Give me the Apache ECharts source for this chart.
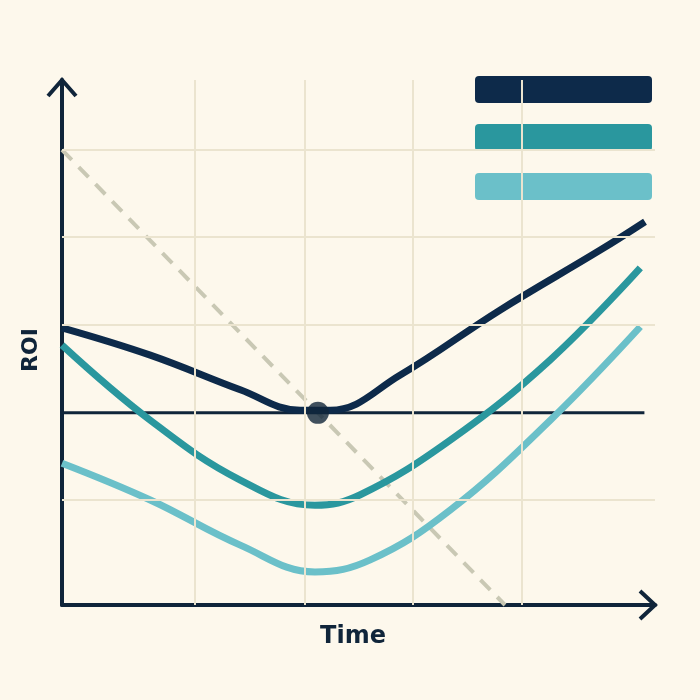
<!DOCTYPE html><html><head><meta charset="utf-8">
<script src="https://cdn.jsdelivr.net/npm/echarts@6/dist/echarts.min.js"></script>
<style>html,body{margin:0;background:#fdf8ec}#c{width:700px;height:700px}</style></head><body><div id="c"></div>
<script>
const darkLine=[[0,5.28],[1.5,4.76],[3.03,4.1],[4.05,3.71],[4.56,3.71],[5.75,4.38],[7.45,5.62],[9.15,6.76],[9.91,7.3]];
const tealLine=[[0,4.95],[1.5,3.52],[3.03,2.38],[4.3,1.9],[5.07,2.1],[6.6,3.14],[8.3,4.67],[9.83,6.42]];
const lightLine=[[0,2.7],[1.5,2.0],[3.03,1.14],[4.3,0.63],[5.24,0.86],[6.6,1.81],[8.3,3.52],[9.83,5.3]];
const dashedLine=[[0,8.67],[7.53,0]];
const baseline=3.66;
const breakEven=[4.35,3.66];
const vGrid=[2.26,4.13,5.97,7.82];
const hGrid=[8.67,7.01,5.33,2.0];
const c=echarts.init(document.getElementById('c'));
const gl={color:'#ebe4cf',width:2,type:'solid'};
c.setOption({
 backgroundColor:'#fdf8ec',animation:false,
 grid:{left:62,right:45,top:80,bottom:95},
 xAxis:{type:'value',min:0,max:10.08,axisLabel:{show:false},axisTick:{show:false},splitLine:{show:false},axisLine:{lineStyle:{color:'#10253a',width:4}}},
 yAxis:{type:'value',min:0,max:10,axisLabel:{show:false},axisTick:{show:false},splitLine:{show:false},axisLine:{lineStyle:{color:'#10253a',width:4}}},
 series:[
  {type:'line',data:[],markLine:{silent:true,symbol:'none',label:{show:false},lineStyle:gl,
    data:[...vGrid.map(v=>({xAxis:v})),...hGrid.map(v=>({yAxis:v}))]}},
  {type:'line',data:dashedLine,symbol:'none',lineStyle:{color:'#c9c8b4',width:4,type:[14,10]}},
  {type:'line',data:[[0,baseline],[9.9,baseline]],symbol:'none',lineStyle:{color:'#10253a',width:3}},
  {type:'line',data:lightLine,smooth:0.4,symbol:'none',lineStyle:{color:'#6bc0c9',width:7}},
  {type:'line',data:tealLine,smooth:0.4,symbol:'none',lineStyle:{color:'#2a979e',width:7}},
  {type:'line',data:darkLine,smooth:0.4,symbol:'none',lineStyle:{color:'#0d2a4a',width:7}},
  {type:'scatter',data:[breakEven],symbolSize:22,itemStyle:{color:'#10253a'},z:10}
 ],
 graphic:[
  {type:'polyline',shape:{points:[[48,96],[62,80],[76,96]]},style:{stroke:'#10253a',lineWidth:4,fill:'none'}},
  {type:'polyline',shape:{points:[[640,591],[655,605],[640,619]]},style:{stroke:'#10253a',lineWidth:4,fill:'none'}},
  {type:'rect',shape:{x:475,y:76,width:177,height:27,r:4},style:{fill:'#0d2a4a'}},
  {type:'rect',shape:{x:475,y:124,width:177,height:27,r:4},style:{fill:'#2a979e'}},
  {type:'rect',shape:{x:475,y:173,width:177,height:27,r:4},style:{fill:'#6bc0c9'}},
  {type:'text',x:353,y:637,style:{text:'Time',font:'bold 24px "DejaVu Sans"',fill:'#10253a',align:'center',verticalAlign:'middle'}},
  {type:'text',x:31,y:350,rotation:Math.PI/2,style:{text:'ROI',font:'bold 22px "DejaVu Sans"',fill:'#10253a',align:'center',verticalAlign:'middle'}}
 ]
});
</script></body></html>
